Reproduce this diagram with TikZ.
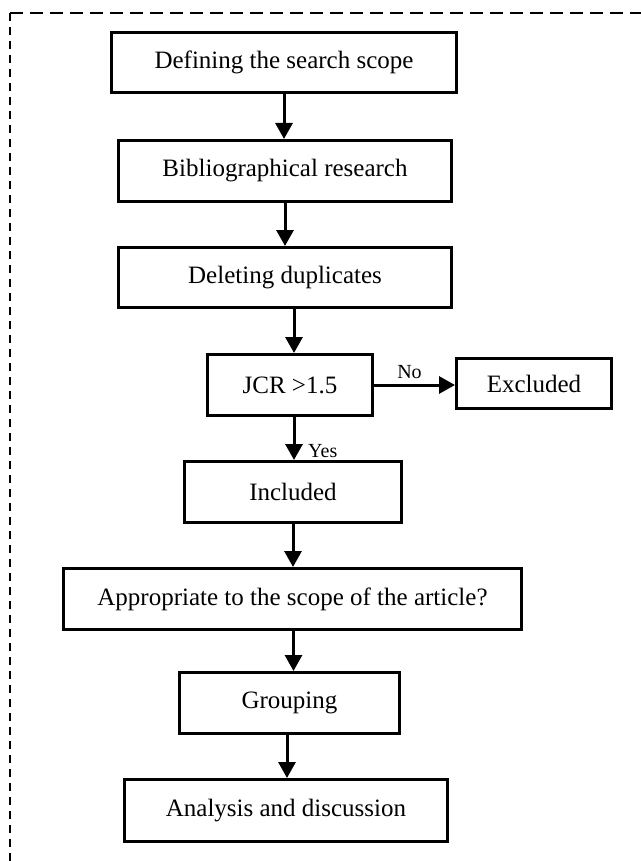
\documentclass[tikz,border=0pt]{standalone}
\usepackage{fontspec}
\setmainfont{Liberation Serif}
\usetikzlibrary{arrows.meta}
\begin{document}
\begin{tikzpicture}[x=1pt,y=-1pt,
  box/.style={draw, line width=3pt, inner sep=0pt, font=\fontsize{25}{30}\selectfont},
  lbl/.style={inner sep=0pt, font=\fontsize{20}{24}\selectfont},
  arr/.style={line width=3pt, -{Triangle[length=16pt,width=17pt]}},
  frame/.style={line width=2.5pt}]
\useasboundingbox (0,0) rectangle (640,861);
% dashed frame
\draw[frame, dash pattern=on 13pt off 7pt] (10,13) -- (660,13);
\draw[frame, dash pattern=on 8pt off 6pt] (10,13) -- (10,880);
% boxes
\node[box, minimum width=345pt, minimum height=60pt] (b1) at (284,62.5) {Defining the search scope};
\node[box, minimum width=333pt, minimum height=61pt] (b2) at (285,171) {Bibliographical research};
\node[box, minimum width=333pt, minimum height=60pt] (b3) at (285,277.5) {Deleting duplicates};
\node[box, minimum width=165pt, minimum height=61pt] (jcr) at (290,385) {JCR >1.5};
\node[box, minimum width=155pt, minimum height=50pt] (exc) at (534,383.5) {Excluded};
\node[box, minimum width=217pt, minimum height=61pt] (inc) at (293,492) {Included};
\node[box, minimum width=458pt, minimum height=61pt] (app) at (292.5,599) {Appropriate to the scope of the article?};
\node[box, minimum width=220pt, minimum height=61pt] (grp) at (289.5,703) {Grouping};
\node[box, minimum width=323pt, minimum height=62pt] (ana) at (286,810.5) {Analysis and discussion};
% arrows
\draw[arr] (b1.south) -- (b1.south |- b2.north);
\draw[arr] (b2.south) -- (b2.south |- b3.north);
\draw[arr] ([xshift=4pt]jcr.north |- b3.south) -- ([xshift=4pt]jcr.north);
\draw[arr] ([xshift=4pt]jcr.south) -- ([xshift=4pt]jcr.south |- inc.north);
\draw[arr] (inc.south) -- (inc.south |- app.north);
\draw[arr] ([xshift=1pt]app.south) -- ([xshift=1pt]app.south |- grp.north);
\draw[arr] ([xshift=-2.5pt]grp.south) -- ([xshift=-2.5pt]grp.south |- ana.north);
\draw[arr] ([yshift=-1.5pt]exc.west -| jcr.east) -- ([yshift=-1.5pt]exc.west);
% labels
\node[lbl, anchor=base] (no) at (409.5,378) {No};
\node[lbl, anchor=base west] (yes) at (308,457) {Yes};
\end{tikzpicture}
\end{document}
